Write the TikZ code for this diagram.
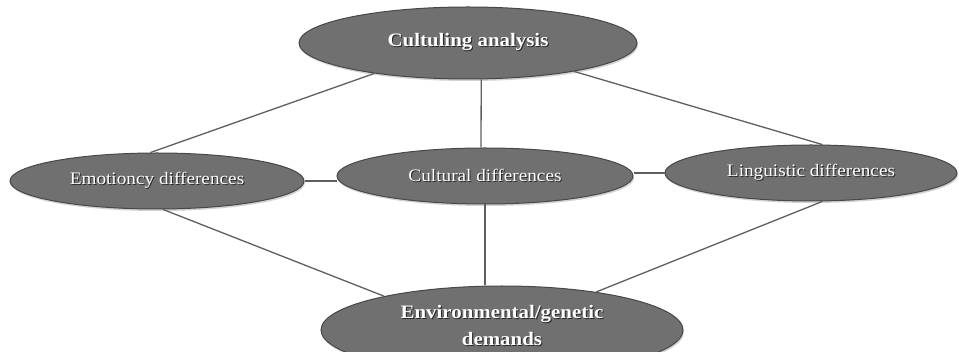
\documentclass[tikz,border=0pt]{standalone}
\usepackage{fontspec}
\setmainfont{Liberation Serif}[FakeStretch=1.1]
\usetikzlibrary{shapes.geometric,shadows}
\definecolor{ellfill}{RGB}{112,112,112}
\definecolor{ellborder}{RGB}{72,72,72}
\definecolor{linkcol}{RGB}{95,95,95}
\newcommand\shd[1]{\makebox[0pt][l]{\hspace{1pt}\raisebox{-1pt}{\color{black!85}#1}}\textcolor{white}{#1}}
\tikzset{
  ell/.style={ellipse, draw=ellborder, line width=1pt, fill=ellfill, inner sep=0pt,
    align=center, font=\fontsize{17.5}{28}\selectfont,
    drop shadow={opacity=0.35, shadow xshift=1pt, shadow yshift=-2pt}},
  boldell/.style={ell, font=\fontsize{19}{28}\selectfont\bfseries},
  link/.style={draw=linkcol, line width=1.3pt}
}
\begin{document}
\begin{tikzpicture}[x=1pt,y=-1pt]
\useasboundingbox (0,0) rectangle (959,352);
\clip (0,0) rectangle (959,352);
\fill[white] (0,0) rectangle (959,352);
\node[boldell, minimum width=338pt, minimum height=72pt] (top) at (468,43) {\shd{Cultuling analysis}};
\node[ell, minimum width=294pt, minimum height=56pt] (emo) at (157,181) {\shd{Emotioncy differences}};
\node[ell, minimum width=296pt, minimum height=56pt] (cul) at (485,176) {\shd{Cultural differences}};
\node[ell, minimum width=292pt, minimum height=56pt] (ling) at (811,173) {\shd{Linguistic differences}};
\node[ell, minimum width=362pt, minimum height=88pt] (bot) at (502,330) {};
\node[font=\fontsize{19}{27}\selectfont\bfseries, align=center, inner sep=0pt] (botlabel) at (502,326) {\shd{Environmental/genetic}\\\shd{demands}};
\draw[link] (top.198) -- (emo.103.6);
\draw[link] (top.345.8) -- (ling.68.6);
\draw[link] (top.290) -- (cul.98);
\draw[link] (emo.east) -- (emo.east -| cul.west);
\draw[link] (ling.west) -- (ling.west -| cul.east);
\draw[link] (emo.282) -- (bot.164);
\draw[link] (cul.south) -- (cul.south |- bot.north);
\draw[link] (ling.292) -- (bot.22);
\end{tikzpicture}
\end{document}
